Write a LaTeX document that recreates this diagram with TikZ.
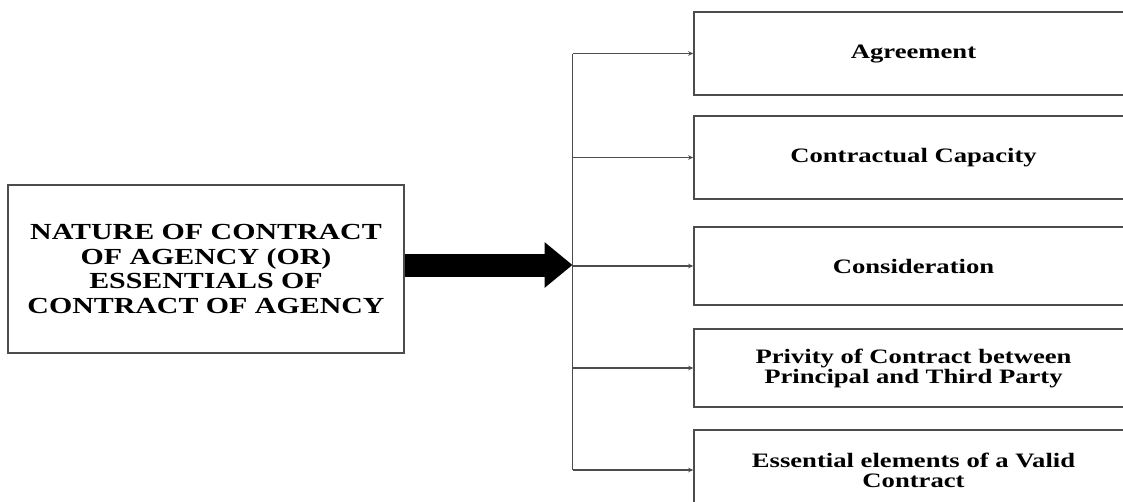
\documentclass[tikz,border=0pt]{standalone}
\usepackage{fontspec}
\newfontfamily\tnr[FakeStretch=1.3]{Liberation Serif}
\usetikzlibrary{arrows.meta}
\definecolor{edge}{gray}{0.3}
\begin{document}
\begin{tikzpicture}[x=1pt,y=-1pt,
  bigbox/.style={draw=edge,line width=1.6pt,inner sep=0pt,minimum width=396pt,minimum height=168pt,align=center,
    font=\tnr\bfseries\fontsize{23}{24.5}\selectfont},
  itembox/.style={draw=edge,line width=1.6pt,inner sep=0pt,minimum width=439pt,align=center,
    font=\tnr\bfseries\fontsize{20.5}{20}\selectfont},
  branch/.style={draw=edge,line width=1.5pt,-{Stealth[length=5pt,width=4.5pt]}},
  trunkline/.style={draw=edge,line width=1.5pt},
  bigarrow/.style={line width=23pt,-{Triangle[length=28pt,width=44pt]}}]
\clip (0,0) rectangle (1123,501);
\fill[white] (0,0) rectangle (1123,501);

\node[bigbox] (L) at (206,269) {NATURE OF CONTRACT\\OF AGENCY (OR)\\ESSENTIALS OF\\CONTRACT OF AGENCY};

\node[itembox,minimum height=83pt] (A) at (913.5,53.5) {Agreement};
\node[itembox,minimum height=83pt] (B) at (913.5,157.5) {Contractual Capacity};
\node[itembox,minimum height=78pt] (C) at (913.5,266) {Consideration};
\node[itembox,minimum height=78pt] (D) at (913.5,368) {Privity of Contract between\\Principal and Third Party};
\node[itembox,minimum height=80pt] (E) at (913.5,470) {Essential elements of a Valid\\Contract};

\coordinate (hub) at (572.5,265);
\coordinate (ttop) at (572.5,53.5);
\coordinate (tbot) at (572.5,470);

\draw[bigarrow] (L.east |- hub) -- (hub);
\draw[trunkline] (ttop) -- (tbot);
\draw[branch] (ttop) -- (A.west);
\draw[branch] (hub |- B.west) -- (B.west);
\draw[branch] (hub |- C.west) -- (C.west);
\draw[branch] (hub |- D.west) -- (D.west);
\draw[branch] (tbot) -- (E.west);
\end{tikzpicture}
\end{document}
